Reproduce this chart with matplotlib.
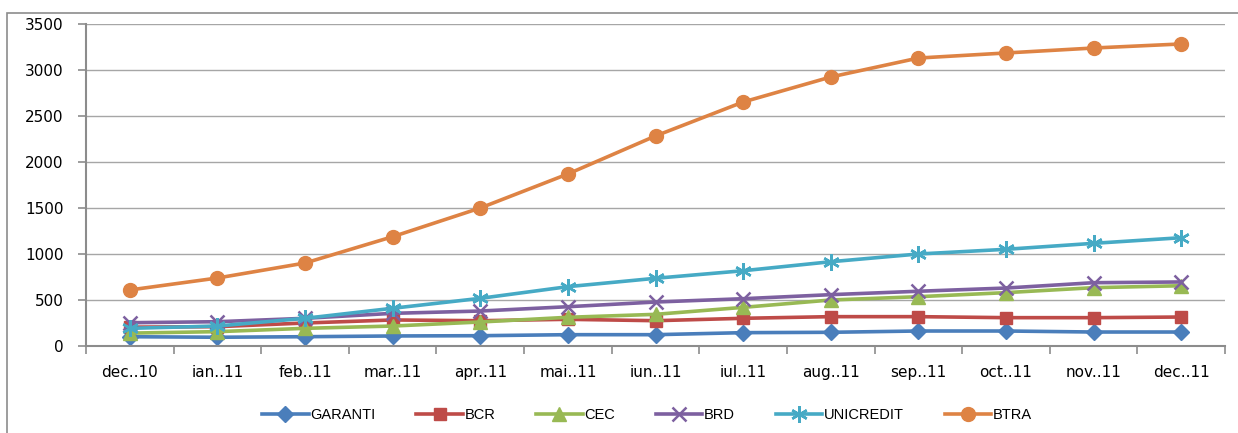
import numpy as np
import matplotlib.pyplot as plt
from matplotlib.patches import Rectangle
from matplotlib.ticker import FixedLocator

months = ['dec..10', 'ian..11', 'feb..11', 'mar..11', 'apr..11', 'mai..11', 'iun..11',
          'iul..11', 'aug..11', 'sep..11', 'oct..11', 'nov..11', 'dec..11']

garanti = [101, 95, 101, 109, 112, 123, 123, 145, 149, 163, 163, 152, 152]
bcr = [205, 210, 250, 283, 275, 290, 275, 301, 319, 319, 308, 308, 315]
cec = [140, 156, 192, 217, 261, 312, 344, 420, 500, 536, 580, 634, 655]
brd = [253, 264, 301, 355, 380, 427, 478, 514, 558, 595, 630, 688, 696]
unicredit = [192, 217, 301, 410, 518, 645, 736, 818, 916, 1000, 1051, 1116, 1177]
btra = [609, 739, 902, 1188, 1500, 1870, 2283, 2652, 2924, 3130, 3185, 3239, 3283]

series = [
    ('GARANTI', garanti, '#4A7EBB', 'D', 8),
    ('BCR', bcr, '#BE4B48', 's', 9),
    ('CEC', cec, '#98B954', '^', 10),
    ('BRD', brd, '#7D60A0', 'x', 10),
    ('UNICREDIT', unicredit, '#46AAC5', (6, 2, 0), 12),
    ('BTRA', btra, '#DE8344', 'o', 10),
]

fig = plt.figure(figsize=(12.38, 4.33), dpi=100)
# outer chart frame
fig.patches.append(Rectangle((7 / 1238, -0.05), 1.1, 1 - 13 / 433 + 0.05,
                             transform=fig.transFigure, fill=False,
                             edgecolor='#8c8c8c', linewidth=1.2))

ax = fig.add_axes([86 / 1238, 1 - 346 / 433, 1139 / 1238, 322 / 433])
x = np.arange(len(months))
for name, vals, col, mk, ms in series:
    mew = 1.8 if mk in ('x', (6, 2, 0)) else 1
    ax.plot(x, vals, color=col, linewidth=2.6, marker=mk, markersize=ms,
            markeredgewidth=mew, markeredgecolor=col, markerfacecolor=col, label=name)

ax.set_xlim(-0.5, len(months) - 0.5)
ax.set_ylim(0, 3500)
ax.set_yticks(np.arange(0, 3501, 500))
ax.yaxis.grid(True, color='#a6a6a6', linewidth=1)
ax.set_axisbelow(True)
ax.set_xticks(x)
ax.set_xticklabels(months)
ax.xaxis.set_minor_locator(FixedLocator(np.arange(-0.5, len(months), 1)))
ax.tick_params(axis='x', which='major', length=0, pad=14, labelsize=11)
ax.tick_params(axis='x', which='minor', length=6, color='#8c8c8c', width=1.2)
ax.tick_params(axis='y', length=6, color='#8c8c8c', width=1.2, pad=10, labelsize=11)
for s in ['top', 'right']:
    ax.spines[s].set_visible(False)
for s in ['left', 'bottom']:
    ax.spines[s].set_color('#8c8c8c')
    ax.spines[s].set_linewidth(1.5)

ax.legend(loc='center', bbox_to_anchor=(0.4925, -0.215), ncol=6, frameon=False,
          prop={'family': ['Liberation Sans', 'DejaVu Sans'], 'size': 10.5},
          handlelength=3.2, handletextpad=0.1, columnspacing=2.8)

fig.savefig('out.png', dpi=100)
